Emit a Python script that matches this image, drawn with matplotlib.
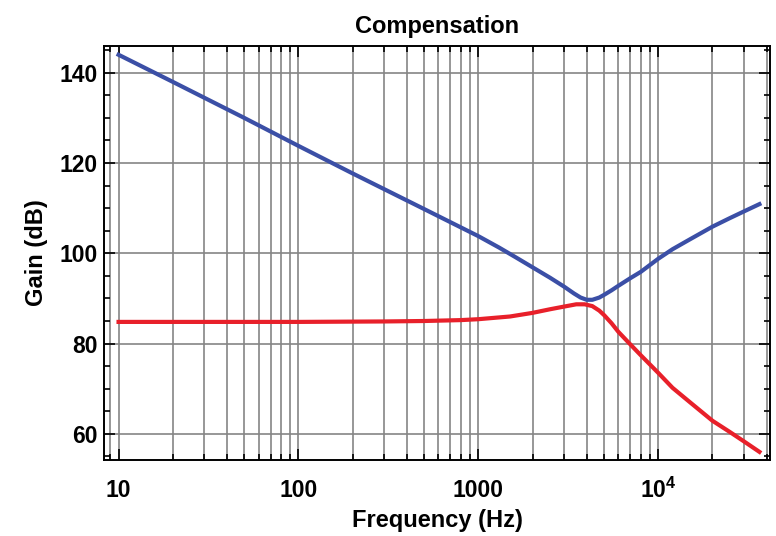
import numpy as np
import matplotlib
matplotlib.use("Agg")
import matplotlib.pyplot as plt
from matplotlib.ticker import LogLocator, FixedLocator, MultipleLocator, FixedFormatter, NullFormatter

plt.rcParams['font.family'] = ['Liberation Sans', 'DejaVu Sans']
plt.rcParams['font.weight'] = 'bold'
plt.rcParams['mathtext.fontset'] = 'custom'
plt.rcParams['mathtext.rm'] = 'Liberation Sans:bold'
plt.rcParams['mathtext.bf'] = 'Liberation Sans:bold'

# blue curve
blue_f = [10, 20, 50, 100, 200, 500, 1000, 1300, 1600, 2000, 2500, 3000, 3400,
          3700, 4000, 4300, 4700, 5000, 5500, 6000, 7000, 8000, 10000, 12000, 15000,
          20000, 25000, 30000, 36500]
blue_db = [144.0, 138.0, 130.0, 123.8, 117.7, 109.8, 103.8, 101.3, 99.2, 96.9,
           94.6, 92.6, 91.1, 90.2, 89.7, 89.7, 90.2, 90.8, 91.8, 92.8, 94.5, 95.9,
           98.8, 100.9, 103.1, 105.9, 107.8, 109.3, 110.9]

# red curve
red_f = [10, 100, 300, 500, 800, 1000, 1500, 2000, 2500, 3000, 3500, 3900, 4300,
         4700, 5000, 5500, 6000, 7000, 8000, 10000, 12000, 15000, 20000, 25000,
         30000, 36500]
red_db = [84.8, 84.8, 84.9, 85.0, 85.2, 85.4, 86.0, 86.8, 87.6, 88.2, 88.7, 88.7,
          88.3, 87.3, 86.3, 84.5, 82.6, 79.8, 77.4, 73.5, 70.2, 67.0, 62.9, 60.4,
          58.3, 56.0]

xticks = [10, 100, 1000, 10000]
xtick_labels = ['10', '100', '1000', r'$\mathbf{10^{4}}$']
yticks = [60, 80, 100, 120, 140]

fig = plt.figure(figsize=(7.76, 5.36), dpi=100)
ax = fig.add_axes([0.1345, 0.1418, 0.8578, 0.7729])

ax.plot(blue_f, blue_db, color='#3b4fa6', lw=3.0, zorder=3)
ax.plot(red_f, red_db, color='#e8202a', lw=3.0, zorder=3)

ax.set_xscale('log')
ax.set_xlim(8.34, 41800)
ax.set_ylim(54.2, 146.0)

ax.xaxis.set_major_locator(FixedLocator(xticks))
ax.xaxis.set_major_formatter(FixedFormatter(xtick_labels))
ax.xaxis.set_minor_locator(LogLocator(base=10, subs=np.arange(2, 10)))
ax.xaxis.set_minor_formatter(NullFormatter())
ax.yaxis.set_major_locator(FixedLocator(yticks))
ax.yaxis.set_minor_locator(MultipleLocator(5))

ax.grid(True, which='major', axis='both', color='#858585', lw=1.2)
ax.grid(True, which='minor', axis='x', color='#858585', lw=1.2)
ax.set_axisbelow(True)

ax.tick_params(which='both', direction='in', top=True, right=True, width=1.2, color='black')
ax.tick_params(which='major', length=8)
ax.tick_params(which='minor', length=4)
ax.tick_params(axis='x', which='major', pad=27, labelsize=16.5)
ax.tick_params(axis='y', which='major', pad=5, labelsize=16.5)

# keep the "10" of 10^4 on the same baseline as the other labels
for t in ax.xaxis.get_major_ticks():
    t.label1.set_verticalalignment('baseline')

for s in ax.spines.values():
    s.set_linewidth(1.4)
    s.set_color('black')

ax.set_title('Compensation', fontsize=17, fontweight='bold', pad=9)
ax.set_xlabel('Frequency (Hz)', fontsize=17, fontweight='bold', labelpad=5)
ax.set_ylabel('Gain (dB)', fontsize=17, fontweight='bold', labelpad=8)

fig.savefig('out.png', dpi=100)
